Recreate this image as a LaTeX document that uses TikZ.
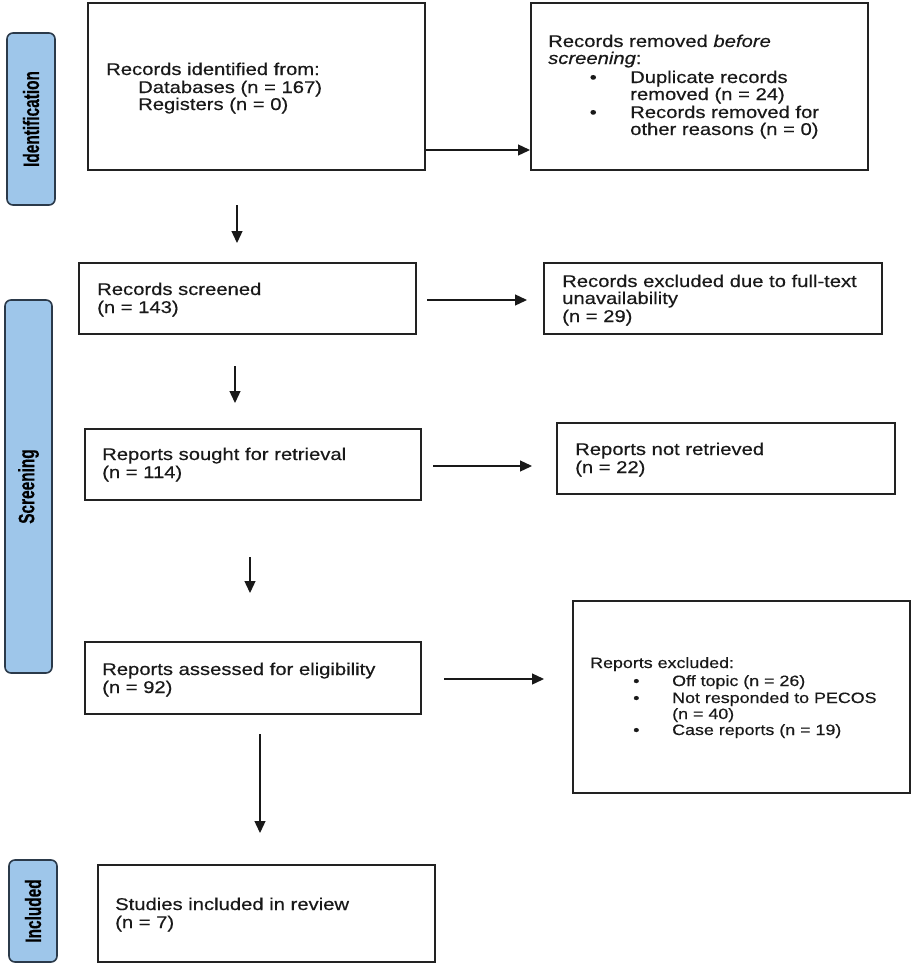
\documentclass[tikz,border=0pt]{standalone}
\usepackage{fontspec}
\usepackage{graphicx}
\setmainfont[FakeStretch=1.19,FakeBold=0.4]{Liberation Sans}
\newfontfamily\sidefont[FakeBold=0.3]{Liberation Sans}
\usetikzlibrary{arrows.meta}
\definecolor{sidefill}{HTML}{9EC6EA}
\definecolor{sideline}{HTML}{2B3A4A}
\definecolor{boxline}{HTML}{222222}
\newcommand\txtline[4]{\node[txt] (#1) at (#2,#3) {#4};}
\newcommand\smline[4]{\node[smtxt] (#1) at (#2,#3) {#4};}
\begin{document}
\begin{tikzpicture}[x=1pt,y=-1pt,
  box/.style={draw=boxline, line width=1.4pt, fill=white, inner sep=0pt, outer sep=0pt},
  sidebox/.style={draw=sideline, line width=1.6pt, fill=sidefill, rounded corners=6pt, inner sep=0pt, outer sep=0pt},
  txt/.style={anchor=base west, inner sep=0pt, font=\fontsize{17}{18}\selectfont, text=black!90},
  smtxt/.style={anchor=base west, inner sep=0pt, font=\fontsize{15}{16}\selectfont, text=black!90},
  arr/.style={-{Triangle[length=12pt,width=11pt]}, line width=1.3pt, draw=black!90},
]
\useasboundingbox (0,0) rectangle (913,966);
\fill[white] (0,0) rectangle (913,966);

% side phase labels
\node[sidebox, minimum width=48, minimum height=172] (idl) at (31,119)
  {\rotatebox{90}{\scalebox{1}[1.45]{\sidefont\bfseries\fontsize{15.4}{16}\selectfont Identification}}};
\node[sidebox, minimum width=47, minimum height=373] (scl) at (28.5,486.5)
  {\rotatebox{90}{\scalebox{1}[1.45]{\sidefont\bfseries\fontsize{15.4}{16}\selectfont Screening}}};
\node[sidebox, minimum width=48, minimum height=102] (inl) at (33,911)
  {\rotatebox{90}{\scalebox{1}[1.45]{\sidefont\bfseries\fontsize{15.4}{16}\selectfont Included}}};

% boxes
\node[box, minimum width=337, minimum height=167] (b1) at (256.5,86.5) {};
\node[box, minimum width=337, minimum height=167] (b2) at (699.5,86.5) {};
\node[box, minimum width=337, minimum height=71] (b3) at (247.5,298.5) {};
\node[box, minimum width=338, minimum height=71] (b4) at (713,298.5) {};
\node[box, minimum width=336, minimum height=71] (b5) at (253,464.5) {};
\node[box, minimum width=338, minimum height=71] (b6) at (726,458.5) {};
\node[box, minimum width=336, minimum height=72] (b7) at (253,678) {};
\node[box, minimum width=337, minimum height=192] (b8) at (741.5,697) {};
\node[box, minimum width=337, minimum height=97] (b9) at (266.5,913.5) {};

% texts
\txtline{t1a}{106}{75}{Records identified from:}
\txtline{t1b}{138}{93}{Databases (n = 167)}
\txtline{t1c}{138}{110}{Registers (n = 0)}

\txtline{t2a}{548}{47}{Records removed \textit{before}}
\txtline{t2b}{548}{64}{\textit{screening}:}
\txtline{t2c}{589.5}{83}{•}
\txtline{t2d}{630}{83}{Duplicate records}
\txtline{t2e}{630}{100}{removed (n = 24)}
\txtline{t2f}{589.5}{118}{•}
\txtline{t2g}{630}{118}{Records removed for}
\txtline{t2h}{630}{135}{other reasons (n = 0)}

\txtline{t3a}{97}{295}{Records screened}
\txtline{t3b}{97}{313}{(n = 143)}

\txtline{t4a}{562}{287}{Records excluded due to full-text}
\txtline{t4b}{562}{304}{unavailability}
\txtline{t4c}{562}{322}{(n = 29)}

\txtline{t5a}{102}{460}{Reports sought for retrieval}
\txtline{t5b}{102}{478}{(n = 114)}

\txtline{t6a}{575}{455}{Reports not retrieved}
\txtline{t6b}{575}{473}{(n = 22)}

\txtline{t7a}{102}{675}{Reports assessed for eligibility}
\txtline{t7b}{102}{693}{(n = 92)}

\smline{t8a}{590}{668}{Reports excluded:}
\smline{t8b}{633}{686}{•}
\smline{t8c}{672}{686}{Off topic (n = 26)}
\smline{t8d}{633}{703}{•}
\smline{t8e}{672}{703}{Not responded to PECOS}
\smline{t8f}{672}{719}{(n = 40)}
\smline{t8g}{633}{735}{•}
\smline{t8h}{672}{735}{Case reports (n = 19)}

\txtline{t9a}{115}{910}{Studies included in review}
\txtline{t9b}{115}{928}{(n = 7)}

% horizontal arrows
\draw[arr, shorten <=1pt, shorten >=1pt] (b1.east |- 0,150) -- (b2.west |- 0,150);
\draw[arr, shorten <=11pt, shorten >=17pt] (b3.east |- 0,300) -- (b4.west |- 0,300);
\draw[arr, shorten <=12pt, shorten >=25pt] (b5.east |- 0,466) -- (b6.west |- 0,466);
\draw[arr, shorten <=23pt, shorten >=29pt] (b7.east |- 0,679) -- (b8.west |- 0,679);

% vertical arrows
\draw[arr, shorten <=35pt, shorten >=20pt] (b1.south -| 237,0) -- (b3.north -| 237,0);
\draw[arr, shorten <=32pt, shorten >=26pt] (b3.south -| 235,0) -- (b5.north -| 235,0);
\draw[arr, shorten <=57pt, shorten >=49pt] (b5.south -| 250,0) -- (b7.north -| 250,0);
\draw[arr, shorten <=20pt, shorten >=32pt] (b7.south -| 260,0) -- (b9.north -| 260,0);
\end{tikzpicture}
\end{document}
